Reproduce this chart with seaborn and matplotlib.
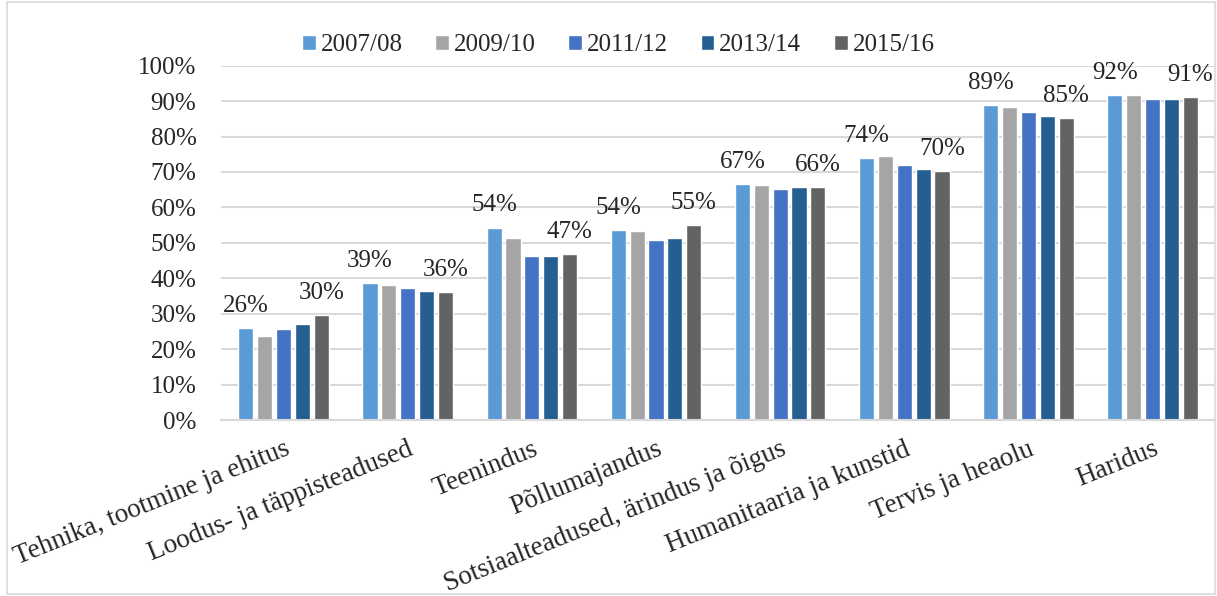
import pandas as pd
import seaborn as sns
import matplotlib.pyplot as plt
from matplotlib.patches import Rectangle
from matplotlib.ticker import FuncFormatter

# fields and study years
fields = ['Tehnika, tootmine ja ehitus', 'Loodus- ja täppisteadused', 'Teenindus',
          'Põllumajandus', 'Sotsiaalteadused, ärindus ja õigus',
          'Humanitaaria ja kunstid', 'Tervis ja heaolu', 'Haridus']
years = ['2007/08', '2009/10', '2011/12', '2013/14', '2015/16']

# share (%) per year
y0708 = [26.0, 38.7, 54.3, 53.7, 66.6, 73.9, 89.0, 91.8]
y0910 = [23.6, 38.0, 51.5, 53.3, 66.3, 74.4, 88.4, 91.8]
y1112 = [25.8, 37.2, 46.2, 50.9, 65.2, 72.0, 86.8, 90.6]
y1314 = [27.1, 36.5, 46.2, 51.4, 65.9, 70.9, 85.7, 90.7]
y1516 = [29.5, 36.2, 46.8, 54.9, 65.8, 70.3, 85.2, 91.1]

colors = ['#5B9BD5', '#A5A5A5', '#4472C4', '#255E91', '#636363']

rows = []
for yr, vals in zip(years, [y0708, y0910, y1112, y1314, y1516]):
    for f, v in zip(fields, vals):
        rows.append({'field': f, 'year': yr, 'value': v})
df = pd.DataFrame(rows)

sns.set_style('white')
plt.rcParams['font.family'] = ['Liberation Serif', 'DejaVu Serif']

fig = plt.figure(figsize=(12.17, 5.96), dpi=100)
ax = fig.add_axes([0.182, 0.2953, 0.816, 0.5945])

sns.barplot(data=df, x='field', y='value', hue='year', palette=colors,
            width=0.76, gap=0.2, ax=ax, saturation=1)

# only the first and the last year get a label
for i in [0, len(years) - 1]:
    c = ax.containers[i]
    ax.bar_label(c, labels=[f'{round(v)}%' for v in c.datavalues],
                 padding=8, fontsize=18, clip_on=False)

ax.set_ylim(0, 100)
ax.set_yticks(range(0, 101, 10))
ax.yaxis.set_major_formatter(FuncFormatter(lambda v, p: f'{int(v)}%'))
ax.grid(axis='y', color='#d9d9d9', linewidth=1.5)
ax.set_axisbelow(True)
for s in ['top', 'right', 'left']:
    ax.spines[s].set_visible(False)
ax.spines['bottom'].set_color('#d9d9d9')
ax.spines['bottom'].set_linewidth(1.5)
ax.tick_params(axis='y', length=0, labelsize=18, pad=18)
ax.tick_params(axis='x', length=0, labelsize=19.5, pad=12)
ax.set_xlabel('')
ax.set_ylabel('')
plt.setp(ax.get_xticklabels(), rotation=22, ha='right', rotation_mode='anchor')

handles, labels = ax.get_legend_handles_labels()
ax.get_legend().remove()
fig.legend(handles, labels, loc='center', bbox_to_anchor=(0.508, 0.924), ncol=5,
           frameon=False, fontsize=18, handlelength=0.55, handleheight=0.55,
           handletextpad=0.2, columnspacing=1.3)

# light frame round the chart
fig.patches.append(Rectangle((0.006, 0.003), 0.992, 0.994, transform=fig.transFigure,
                             fill=False, edgecolor='#d9d9d9', linewidth=1.2))

plt.savefig('out.png')
